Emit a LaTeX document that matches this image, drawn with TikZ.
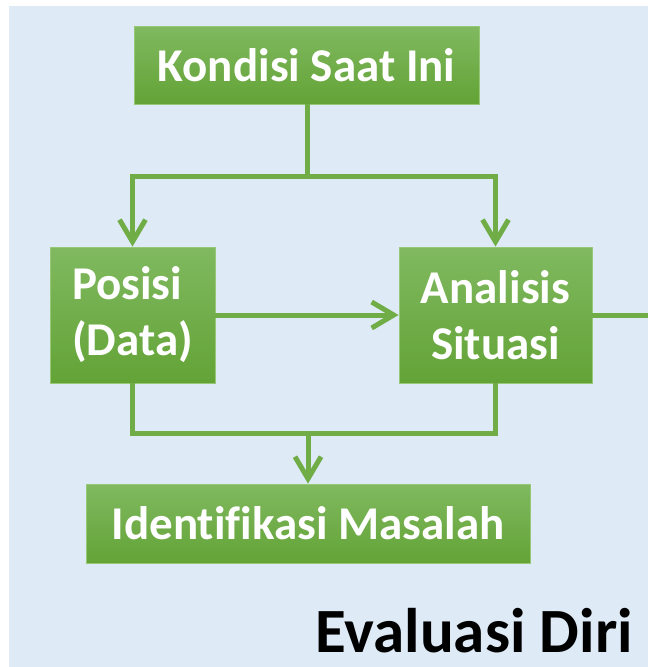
\documentclass[tikz,border=0pt]{standalone}
\usepackage{fontspec}
\setmainfont{Carlito}[Ligatures=NoCommon]
\usetikzlibrary{arrows.meta}
\definecolor{bg}{RGB}{222,234,246}
\definecolor{gtop}{RGB}{128,185,96}
\definecolor{gbot}{RGB}{99,163,54}
\definecolor{gline}{RGB}{112,173,71}
\definecolor{gedge}{RGB}{150,200,120}
\tikzset{
  box/.style={draw=gedge, line width=0.8pt, top color=gtop, bottom color=gbot,
    text=white, font=\fontsize{47}{56}\selectfont\bfseries, inner sep=0pt, anchor=center},
  conn/.style={draw=gline, line width=5pt},
  arr/.style={conn, -{Straight Barb[length=22pt,width=26pt]}},
}
\begin{document}
\begin{tikzpicture}[x=1pt,y=-1pt]
\useasboundingbox (0,0) rectangle (648,667);
\fill[white] (0,0) rectangle (648,667);
\fill[bg] (9,6) rectangle (648,667);

\node[box, minimum width=345pt, minimum height=78pt] (kond) at (306.5,65) {Kondisi Saat Ini};
\node[box, minimum width=165pt, minimum height=136pt, align=left] (pos) at (132.5,315) {Posisi\\(Data)};
\node[box, minimum width=193pt, minimum height=136pt, align=center] (ana) at (495.5,315) {Analisis\\Situasi};
\node[box, minimum width=444pt, minimum height=79pt] (iden) at (308,523.5) {Identifikasi Masalah};
\node[font=\fontsize{63}{70}\selectfont\bfseries, anchor=base east, inner sep=0pt] (eval) at (633,652) {Evaluasi Diri};

\coordinate (top) at (307,176);
\coordinate (bot) at (308,433);
\coordinate (exit) at (648,315);

\draw[arr] (kond.south -| top) -- (top) -| (pos.north);
\draw[arr] (top) -| (ana.north);
\draw[arr] (pos.east) -- (ana.west);
\draw[conn] (ana.east) -- (exit);
\draw[conn] (pos.south) |- (bot) -| (ana.south);
\draw[arr] (bot) -- (iden.north);
\end{tikzpicture}
\end{document}
